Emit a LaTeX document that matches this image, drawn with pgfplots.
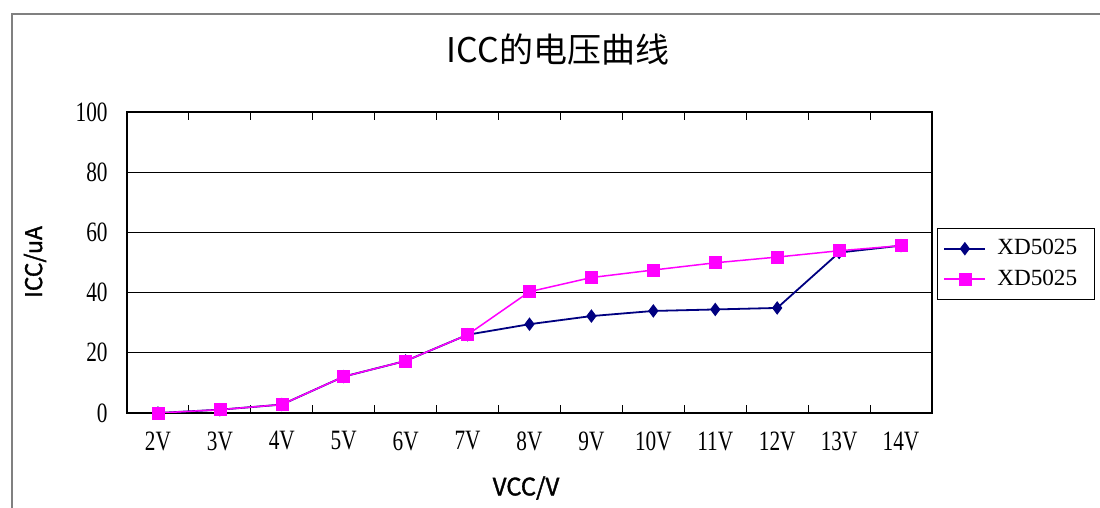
\documentclass[border=0pt]{standalone}
\usepackage{fontspec}
\setmainfont{Liberation Serif}
\newfontfamily\cjk{Noto Sans CJK SC}
\newfontfamily\cjkb[FakeBold=1.5]{Noto Sans CJK SC}
\newfontfamily\tickfont[FakeStretch=0.76]{Liberation Serif}
\usepackage{pgfplots}
\pgfplotsset{compat=1.18}
\definecolor{navyline}{RGB}{0,0,128}
\definecolor{magline}{RGB}{255,0,255}
\definecolor{framegray}{RGB}{128,128,128}

\begin{document}
\begin{tikzpicture}
\useasboundingbox (0,0) rectangle (550pt,254pt);
\draw[framegray, line width=0.6pt] (6pt,0pt) -- (6pt,247pt) -- (550pt,247pt);
\node[font=\cjk\fontsize{17}{20}\selectfont] at (279pt,229pt) {ICC的电压曲线};
\node[font=\cjkb\fontsize{11.5}{14}\selectfont, rotate=90] at (17.5pt,123pt) {ICC/uA};
\node[font=\cjkb\fontsize{12}{14}\selectfont] at (263pt,10pt) {VCC/V};
\begin{axis}[
  at={(63.5pt,47.5pt)}, anchor=south west,
  scale only axis, width=402.5pt, height=150.5pt,
  xmin=-0.5, xmax=12.5, ymin=0, ymax=100,
  xtick={0,...,12},
  xticklabels={2V,3V,4V,5V,6V,7V,8V,9V,10V,11V,12V,13V,14V},
  minor xtick={0.5,1.5,...,11.5},
  ytick={0,20,...,100},
  major tick length=0pt, minor tick length=4pt,
  tick align=inside,
  tick style={black, line width=0.5pt},
  ymajorgrids, grid style={black, line width=0.5pt},
  axis line style={black, line width=0.8pt},
  /pgf/number format/assume math mode=true,
  xticklabel style={font=\tickfont\fontsize{14}{16}\selectfont, anchor=center, yshift=-14pt},
  yticklabel style={font=\tickfont\fontsize{14}{16}\selectfont, anchor=east, inner sep=0pt, xshift=-9.5pt},
  legend style={at={(1.0062,0.6146)}, anchor=north west, draw=black, line width=0.5pt,
    font=\fontsize{11.6}{13}\selectfont, inner xsep=3pt, inner ysep=3.5pt, row sep=2pt,
    nodes={inner xsep=5.5pt}},
  legend cell align=left,
  legend image code/.code={\draw[mark repeat=2,mark phase=2] plot coordinates {(0pt,0pt)(10.25pt,0pt)(20.5pt,0pt)};},
]
\addplot[navyline, line width=0.9pt, mark=diamond*, mark size=3pt, mark options={fill=navyline, line width=0.5pt}] coordinates {
 (0,0) (1,1.1) (2,2.8) (3,12.1) (4,17.3) (5,26) (6,29.5) (7,32.2) (8,33.9) (9,34.4) (10,34.9) (11,53.3) (12,55.6)
};
\addlegendentry{XD5025}
\addplot[magline, line width=0.75pt, mark=square*, mark size=3pt, mark options={fill=magline, line width=0.3pt}] coordinates {
 (0,0) (1,1.1) (2,2.8) (3,12.1) (4,17.3) (5,26) (6,40.3) (7,45) (8,47.5) (9,49.9) (10,51.8) (11,53.9) (12,55.6)
};
\addlegendentry{XD5025}
\end{axis}
\end{tikzpicture}
\end{document}
